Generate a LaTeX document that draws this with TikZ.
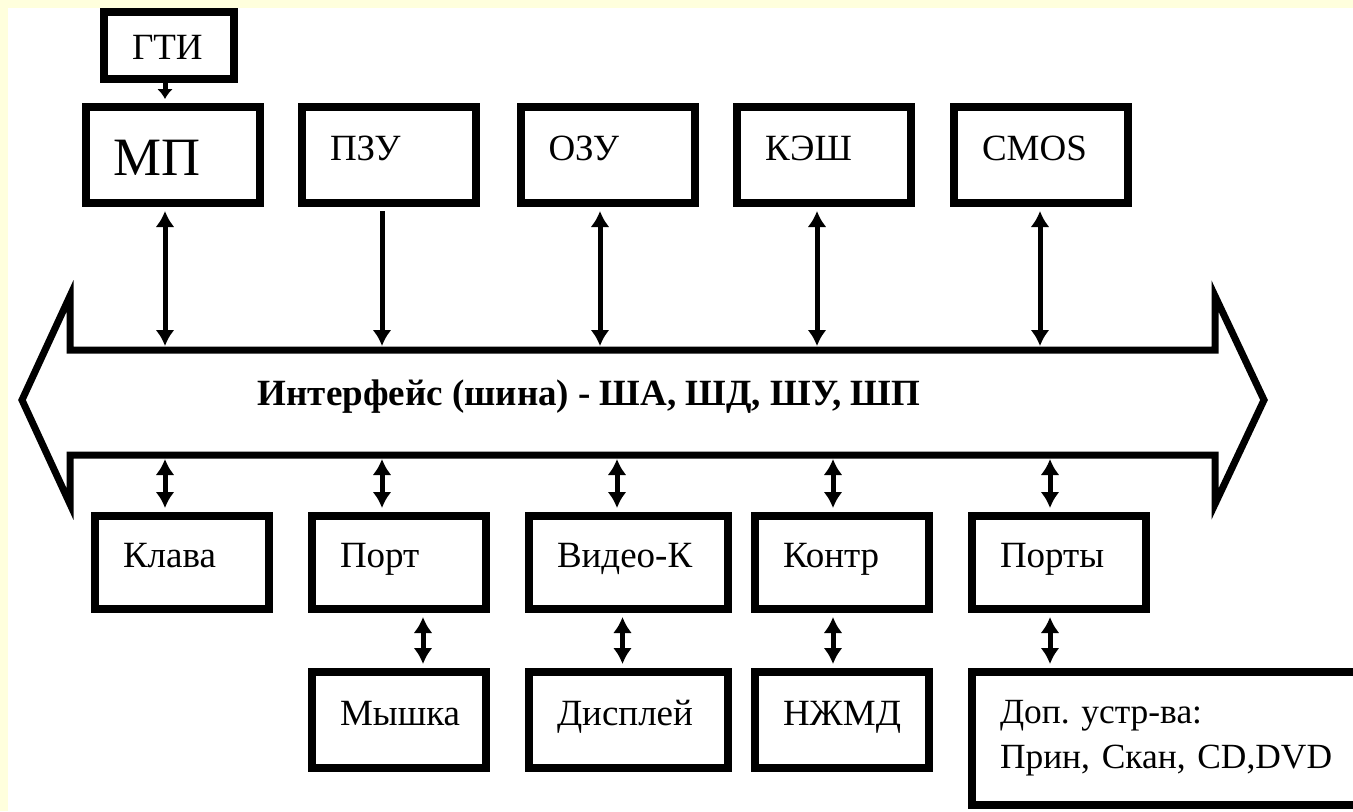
\documentclass[tikz,border=0pt]{standalone}
\usepackage{fontspec}
\setmainfont{Liberation Serif}
\frenchspacing
\usetikzlibrary{arrows.meta}
\definecolor{slidebg}{RGB}{255,255,221}
\tikzset{
  boxbase/.style={draw, line width=4pt, font=\fontsize{18.5}{22.5}\selectfont,
    inner xsep=14pt, inner ysep=0pt, align=left},
  blk/.style={boxbase, text width=59pt, minimum height=48pt,
    text height=12pt, text depth=7pt},
  wideblk/.style={blk, text width=71.5pt},
  link/.style={line width=2.5pt, shorten >=2pt, shorten <=2pt,
    >={Latex[length=8pt,width=9.5pt]}},
}
\begin{document}
\begin{tikzpicture}[x=0.5pt,y=-0.5pt]
  \useasboundingbox (0,0) rectangle (1353,811);
  \clip (0,0) rectangle (1353,811);
  \fill[slidebg] (0,0) rectangle (1353,811);
  \fill[white] (8,8) rectangle (1353,811);

  % bus
  \coordinate (L) at (22,400);
  \coordinate (LU) at (70,296);
  \coordinate (LA) at (70,350);
  \coordinate (RA) at (1215,350);
  \coordinate (RU) at (1215,296);
  \coordinate (R) at (1264,400);
  \coordinate (RD) at (1215,504);
  \coordinate (RB) at (1215,455);
  \coordinate (LB) at (70,455);
  \coordinate (LD) at (70,504);
  \draw[line width=3.5pt] (L) -- (LU) -- (LA) -- (RA) -- (RU) -- (R)
    -- (RD) -- (RB) -- (LB) -- (LD) -- cycle;
  \node[font=\bfseries\fontsize{18.5}{21}\selectfont] (bus) at (589,397)
    {Интерфейс (шина) - ША, ШД, ШУ, ШП};

  \coordinate (t1) at (165,350);
  \coordinate (t2) at (382,350);
  \coordinate (t3) at (600,350);
  \coordinate (t4) at (817,350);
  \coordinate (t5) at (1040,350);
  \coordinate (b1) at (165,455);
  \coordinate (b2) at (382,455);
  \coordinate (b3) at (617,455);
  \coordinate (b4) at (833,455);
  \coordinate (b5) at (1050,455);

  % top row
  \node[blk, text width=37pt, minimum height=33.5pt, text height=14pt, text depth=0pt]
    (gti) at (169,45.5) {ГТИ};
  \node[blk, font=\fontsize{27}{30}\selectfont, text height=20pt, text depth=0pt]
    (mp) at (172.5,155) {МП};
  \node[blk] (pzu) at (389,155) {ПЗУ};
  \node[blk] (ozu) at (607.5,155) {ОЗУ};
  \node[blk] (kesh) at (824,155) {КЭШ};
  \node[blk] (cmos) at (1041,155) {CMOS};

  % bottom rows
  \node[blk, minimum height=46.5pt] (klava) at (182,562.5) {Клава};
  \node[blk, minimum height=46.5pt] (port) at (399,562.5) {Порт};
  \node[wideblk, minimum height=46.5pt] (video) at (628.5,562.5) {Видео-К};
  \node[blk, minimum height=46.5pt] (kontr) at (842,562.5) {Контр};
  \node[blk, minimum height=46.5pt] (ports) at (1059,562.5) {Порты};
  \node[blk] (mouse) at (399,720) {Мышка};
  \node[wideblk] (disp) at (628.5,720) {Дисплей};
  \node[blk] (hdd) at (842,720) {НЖМД};
  \node[boxbase, font=\fontsize{17.7}{22.5}\selectfont, text width=186pt,
    minimum height=66.5pt] (dop) at (1186,738.5)
    {Доп. устр-ва:\\Прин, Скан, CD,DVD};

  \draw[link, shorten <=0pt, -{Latex[length=5pt,width=8pt]}] (gti.south -| t1) -- (mp.north -| t1);
  \draw[link,<->] (mp.south -| t1) -- (t1);
  \draw[link,->] (pzu.south -| t2) -- (t2);
  \draw[link,<->] (ozu.south -| t3) -- (t3);
  \draw[link,<->] (kesh.south -| t4) -- (t4);
  \draw[link,<->] (cmos.south -| t5) -- (t5);

  \draw[link,<->] (b1) -- (klava.north -| b1);
  \draw[link,<->] (b2) -- (port.north -| b2);
  \draw[link,<->] (b3) -- (video.north -| b3);
  \draw[link,<->] (b4) -- (kontr.north -| b4);
  \draw[link,<->] (b5) -- (ports.north -| b5);

  \draw[link,<->] ([xshift=12pt]port.south) -- ([xshift=12pt]mouse.north);
  \draw[link,<->] ([xshift=-3pt]video.south) -- ([xshift=-3pt]disp.north);
  \draw[link,<->] (kontr.south -| b4) -- (hdd.north -| b4);
  \draw[link,<->] (ports.south -| b5) -- (dop.north -| b5);
\end{tikzpicture}
\end{document}
